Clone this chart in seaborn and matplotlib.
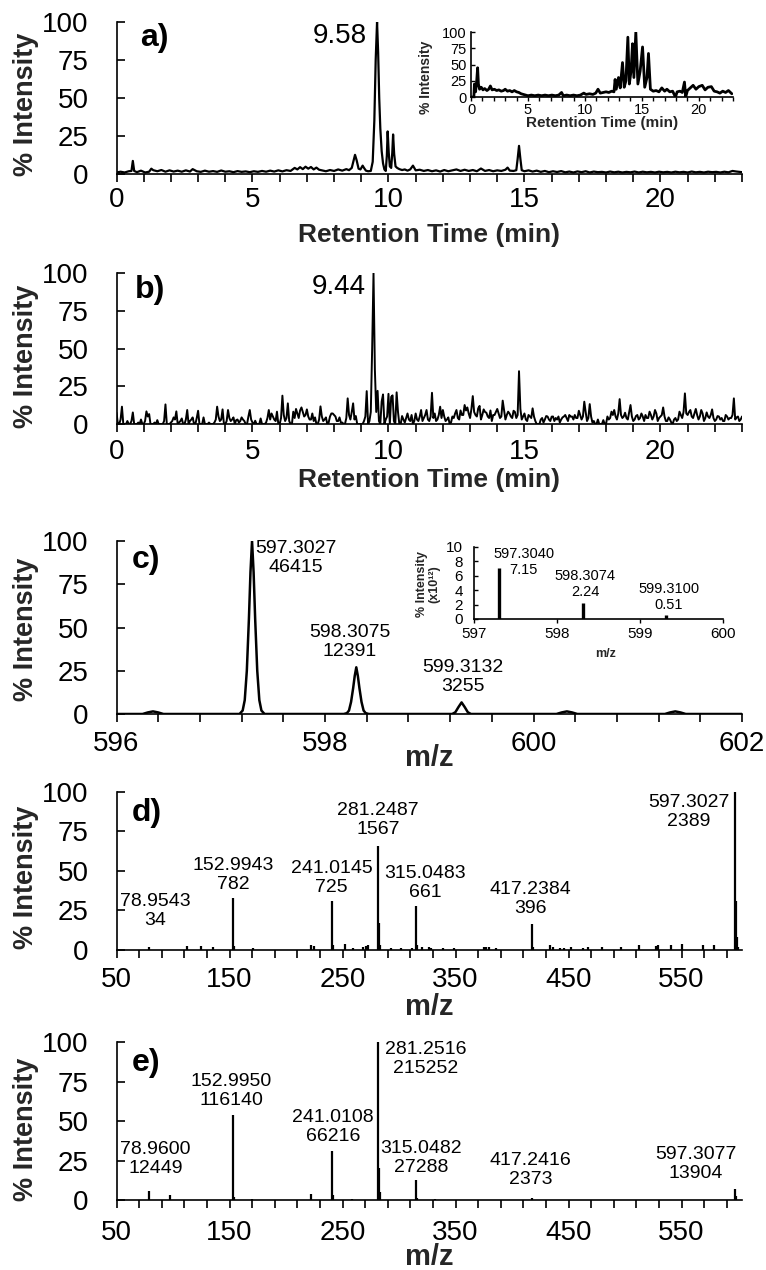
import numpy as np
import matplotlib
matplotlib.use("Agg")
import matplotlib.pyplot as plt
import seaborn as sns

# ---- a) extracted ion chromatogram ----
rt_a = [0.00, 0.15, 0.30, 0.45, 0.55, 0.60, 0.65, 0.75, 0.90, 1.05, 1.20, 1.28, 1.35, 1.50,
        1.65, 1.80, 1.95, 2.10, 2.25, 2.40, 2.55, 2.70, 2.80, 2.95, 3.10, 3.25, 3.40, 3.55,
        3.70, 3.85, 4.00, 4.15, 4.30, 4.45, 4.60, 4.75, 4.90, 5.05, 5.20, 5.35, 5.50, 5.65,
        5.80, 5.95, 6.10, 6.25, 6.40, 6.55, 6.65, 6.75, 6.85, 6.95, 7.05, 7.15, 7.25, 7.35,
        7.45, 7.55, 7.70, 7.85, 8.00, 8.15, 8.30, 8.45, 8.55, 8.65, 8.72, 8.77, 8.83, 8.90,
        8.97, 9.05, 9.10, 9.17, 9.25, 9.35, 9.42, 9.48, 9.53, 9.58, 9.62, 9.66, 9.70, 9.75,
        9.80, 9.85, 9.90, 9.94, 9.97, 10.01, 10.05, 10.10, 10.14, 10.17, 10.21, 10.26, 10.32,
        10.40, 10.50, 10.60, 10.70, 10.80, 10.90, 11.00, 11.15, 11.30, 11.45, 11.60, 11.75,
        11.90, 12.05, 12.20, 12.35, 12.50, 12.65, 12.80, 12.95, 13.10, 13.25, 13.40, 13.55,
        13.70, 13.85, 14.00, 14.15, 14.30, 14.38, 14.46, 14.60, 14.70, 14.75, 14.80, 14.85,
        14.90, 15.00, 15.15, 15.30, 15.45, 15.60, 15.75, 15.90, 16.05, 16.20, 16.35, 16.50,
        16.65, 16.80, 16.95, 17.10, 17.25, 17.40, 17.55, 17.70, 17.85, 18.00, 18.15, 18.30,
        18.45, 18.60, 18.75, 18.90, 19.05, 19.20, 19.35, 19.50, 19.65, 19.80, 19.95, 20.10,
        20.25, 20.40, 20.55, 20.70, 20.85, 21.00, 21.15, 21.30, 21.45, 21.60, 21.75, 21.90,
        22.05, 22.20, 22.35, 22.50, 22.65, 22.80, 23.00]
int_a = [1.0, 1.5, 1.0, 1.8, 2.0, 8.6, 2.0, 1.2, 2.2, 1.0, 1.5, 3.5, 2.5, 1.8,
         2.6, 1.5, 2.4, 1.6, 2.2, 1.5, 2.4, 1.6, 3.2, 1.8, 1.4, 2.2, 1.5, 1.9,
         1.4, 2.3, 1.5, 1.8, 1.2, 1.9, 1.4, 1.7, 1.2, 1.8, 1.4, 2.0, 1.5, 2.2,
         1.6, 2.4, 1.7, 2.5, 2.0, 4.0, 3.0, 4.5, 3.2, 4.8, 3.5, 4.6, 3.0, 4.2,
         2.8, 2.4, 1.8, 2.6, 2.0, 3.0, 2.2, 3.2, 2.5, 4.0, 9.0, 12.6, 9.0, 3.5,
         3.0, 5.5, 4.0, 2.2, 1.8, 2.0, 8.0, 35.0, 75.0, 100.0, 80.0, 50.0, 30.0, 15.0,
         7.0, 3.0, 2.0, 12.0, 28.0, 14.0, 5.0, 4.0, 14.0, 26.0, 13.0, 5.0, 4.0,
         3.2, 2.6, 3.0, 2.2, 3.0, 5.5, 2.4, 2.8, 2.0, 2.6, 1.8, 2.4,
         1.6, 2.6, 1.8, 2.4, 3.0, 2.0, 2.8, 2.0, 2.6, 1.8, 3.6, 2.0,
         2.6, 1.8, 2.4, 2.0, 2.8, 4.2, 2.2, 2.0, 2.5, 10.0, 18.5, 10.0,
         2.5, 1.8, 2.4, 1.6, 2.2, 1.4, 2.0, 1.2, 1.8, 1.3, 1.9, 1.1,
         1.6, 1.0, 1.7, 1.2, 1.8, 1.0, 1.6, 1.2, 1.4, 1.0, 1.6, 1.1,
         1.5, 1.0, 1.4, 1.1, 1.6, 1.0, 1.5, 1.1, 1.4, 1.0, 1.5, 1.1,
         1.4, 1.0, 1.5, 1.1, 1.4, 1.0, 1.6, 1.1, 1.4, 1.0, 1.5, 1.2,
         1.4, 1.0, 1.5, 1.1, 2.0, 1.6, 1.2]

# inset of a) total ion chromatogram
rt_tic = [0.00, 0.25, 0.30, 0.40, 0.50, 0.58, 0.65, 0.75, 0.90, 1.05, 1.20, 1.40, 1.55, 1.70,
          1.85, 2.05, 2.25, 2.45, 2.65, 2.85, 3.00, 3.20, 3.40, 3.60, 3.80, 4.00, 4.20, 4.40,
          4.60, 4.80, 5.00, 5.30, 5.60, 5.90, 6.20, 6.50, 6.80, 7.10, 7.40, 7.70, 7.95, 8.10,
          8.40, 8.70, 9.00, 9.30, 9.60, 9.90, 10.10, 10.40, 10.70, 10.95, 11.15, 11.35, 11.60,
          11.85, 12.10, 12.35, 12.55, 12.65, 12.75, 12.95, 13.10, 13.30, 13.45, 13.60, 13.77,
          13.90, 14.05, 14.18, 14.30, 14.47, 14.65, 14.85, 15.06, 15.25, 15.45, 15.58, 15.75,
          16.00, 16.25, 16.50, 16.75, 17.00, 17.20, 17.45, 17.70, 17.95, 18.10, 18.35, 18.55,
          18.74, 18.85, 19.00, 19.25, 19.50, 19.75, 20.00, 20.30, 20.55, 20.80, 21.10, 21.35,
          21.60, 21.85, 22.10, 22.35, 22.60, 22.90]
int_tic = [0, 0, 20, 8, 25, 45, 20, 12, 15, 11, 13, 10, 12, 17,
           11, 12, 10, 11, 9, 10, 12, 9, 10, 8, 10, 8, 7, 5,
           4, 3, 2, 3, 2, 3, 2, 3, 2, 3, 2, 3, 7, 2,
           3, 2, 3, 2, 3, 6, 4, 5, 4, 6, 12, 6, 7,
           8, 7, 9, 8, 27, 12, 30, 14, 53, 15, 25, 92,
           20, 40, 82, 30, 100, 20, 40, 77, 15, 30, 67, 12,
           9, 10, 8, 14, 9, 12, 8, 9, 0, 8, 9, 7,
           23, 0, 10, 14, 18, 12, 16, 18, 11, 15, 16, 9,
           8, 6, 9, 7, 10, 5]

# ---- b) chromatogram: values at every 0.1 min (t = 0.0 ... 23.0) ----
int_b_even = [7.5, 0, 11.5, 0, 2, 0, 7.7, 0, 1, 3,
              0, 8.4, 6.6, 0, 1, 2.6, 0, 0, 13, 0,
              1, 4.4, 8.4, 1, 3.7, 0, 9.3, 2, 4.4, 0,
              8.8, 0, 4.4, 0, 1, 0, 1, 11.5, 2, 9.7,
              0, 9.3, 2, 4.4, 2.6, 1, 4.4, 2, 0, 9.3,
              1, 2.2, 0, 3.7, 0, 1, 9.3, 7, 3, 8.2,
              0, 18.8, 2, 13.7, 0, 8.2, 10, 4, 11, 5,
              9.7, 3, 7, 4.4, 0, 11.7, 2, 4.4, 1, 7,
              6, 2, 4.4, 1, 0, 17, 3, 13.7, 5.3, 0,
              0, 2, 21.8, 2, 50, 36, 22, 0, 19.6, 3,
              20, 18, 2, 21, 0, 5.3, 1, 7, 2, 0,
              7, 2, 9.3, 4, 9.3, 2, 20.7, 7, 3, 11.5,
              9.3, 2, 4.4, 1, 4, 9.3, 3, 6, 12.6, 11,
              4, 18.5, 6, 10.4, 3, 9.7, 7.5, 4, 2, 6,
              10, 4, 15.5, 3, 8.2, 5, 8.8, 4, 35, 3,
              7, 2, 5, 10.4, 2, 0, 3, 1, 5.3, 3,
              4.9, 2, 3, 1, 4.4, 6, 2, 4.9, 3, 4,
              8.8, 3, 14.8, 2, 13.2, 1, 0, 3, 0, 2.6,
              0, 3, 8.2, 9.3, 3, 16.5, 4, 7.5, 3, 12.6,
              2, 5.3, 3, 7, 2, 4, 8.2, 3, 9.3, 2,
              5, 11, 2, 4.4, 1, 3, 2, 8.2, 4, 20.3,
              6, 9.3, 4, 10, 3, 9.3, 2, 7.7, 4, 9.7,
              2, 5.3, 3, 2, 6, 3, 4, 17, 4.4, 2,
              5]
# values half-way between (t = 0.05 ... 22.95)
int_b_odd = [0, 3, 0, 0, 0, 2, 0, 0, 0, 0,
             2, 5, 0, 0, 0, 0, 0, 2, 0, 0,
             2, 3, 0, 2, 0, 3, 0, 3, 0, 4,
             0, 0, 0, 0, 0, 0, 3, 5, 3, 0,
             2, 4, 3, 0, 3, 2, 3, 0, 5, 3,
             0, 0, 0, 0, 0, 4, 3, 5, 2, 0,
             4, 6, 4, 2, 0, 4, 7, 9, 8, 6,
             5, 3, 2, 0, 3, 5, 3, 0, 5, 7,
             5, 2, 1, 0, 4, 6, 8, 3, 0, 0,
             0, 5, 0, 8, 100, 8, 2, 15, 0, 5,
             0, 19, 0, 8, 0, 3, 4, 3, 6, 2,
             3, 5, 2, 6, 3, 5, 4, 2, 6, 4,
             5, 3, 0, 5, 7, 4, 9, 6, 9, 7,
             10, 8, 5, 12, 6, 8, 5, 9, 6, 8,
             7, 5, 9, 6, 7, 4, 8, 6, 10, 5,
             3, 6, 4, 5, 0, 0, 4, 3, 5, 2,
             5, 4, 5, 3, 5, 4, 6, 5, 6, 4,
             6, 5, 8, 4, 5, 2, 0, 0, 0, 0,
             5, 4, 6, 5, 7, 6, 5, 4, 8, 5,
             3, 6, 4, 5, 6, 4, 6, 5, 7, 4,
             6, 5, 2, 3, 0, 4, 3, 6, 8, 7,
             8, 5, 7, 6, 5, 7, 4, 5, 6, 4,
             3, 5, 4, 2, 5, 4, 6, 3, 5, 3]

# ---- c) full-scan profile spectrum ----
mz_c = [596.00, 596.25, 596.30, 596.35, 596.40, 596.45,
        597.18, 597.21, 597.23, 597.25, 597.27, 597.285, 597.30, 597.315, 597.33, 597.35,
        597.37, 597.39, 597.42,
        598.18, 598.21, 598.23, 598.25, 598.27, 598.285, 598.30, 598.315, 598.33, 598.35,
        598.37, 598.39, 598.42,
        599.22, 599.25, 599.28, 599.31, 599.34, 599.37, 599.40,
        600.22, 600.27, 600.32, 600.37, 600.42,
        601.26, 601.31, 601.36, 601.41, 601.46, 602.00]
int_c = [0, 0, 0.9, 1.5, 0.9, 0,
         0, 2, 8, 25, 55, 82, 100, 82, 55, 25,
         8, 2, 0,
         0, 0.5, 2, 7, 15, 22, 27, 22, 15, 7,
         2, 0.5, 0,
         0, 1, 4, 6.7, 4, 1, 0,
         0, 0.9, 1.5, 0.9, 0,
         0, 0.9, 1.5, 0.9, 0, 0]
c_labels = ["597.3027\n46415", "598.3075\n12391", "599.3132\n3255"]

# inset of c) theoretical isotope pattern
mz_theo = [597.3040, 598.3074, 599.3100]
int_theo = [7.15, 2.24, 0.51]
theo_labels = ["597.3040\n7.15", "598.3074\n2.24", "599.3100\n0.51"]

# ---- d) MS/MS spectrum ----
mz_d = [78.95, 112, 125, 135, 152.99, 154.0, 171, 222, 225, 241.01, 242.0, 252.5, 259.6,
        268, 271, 272.7, 281.25, 282.25, 283.25, 292.6, 302, 311.4, 315.05, 316.05, 320.7,
        326.4, 328, 339, 348.7, 374.8, 376.7, 379.8, 386, 417.24, 418.2, 434, 436, 442.5,
        446, 452, 462.5, 467, 480, 496, 512.7, 527, 529, 540.8, 550, 569, 578.5,
        597.30, 598.30, 599.30, 600.3]
int_d = [1.7, 2.5, 2.5, 2.0, 33, 2.5, 1.0, 3.4, 2.5, 31, 3.0, 3.8, 1.3,
         2.0, 2.5, 3.0, 66, 17, 3, 1.3, 1.0, 1.5, 28, 3, 1.7,
         1.7, 1.3, 1.3, 1.3, 2, 2, 2, 1.3, 16.6, 2, 3.4, 2, 1.5,
         1.5, 1.7, 1.5, 1.7, 1.7, 1.7, 3, 2.5, 3.4, 3, 3.8, 3, 3.4,
         100, 31, 8, 2]
d_labels = ["78.9543\n34", "152.9943\n782", "241.0145\n725", "281.2487\n1567",
            "315.0483\n661", "417.2384\n396", "597.3027\n2389"]

# ---- e) MS/MS spectrum ----
mz_e = [78.96, 96.96, 152.995, 153.99, 170, 222.5, 241.01, 242.0, 258, 281.25, 282.25,
        283.25, 315.05, 316.05, 332, 417.24, 597.31, 598.31]
int_e = [6.0, 3.0, 54, 2, 0.8, 3.5, 31, 3, 0.8, 100, 20,
         5, 12.7, 1.5, 0.8, 1.1, 6.8, 2.5]
e_labels = ["78.9600\n12449", "152.9950\n116140", "241.0108\n66216", "281.2516\n215252",
            "315.0482\n27288", "417.2416\n2373", "597.3077\n13904"]

# b) full trace on a 0.05 min grid
rt_b = np.round(np.arange(0, 23.001, 0.05), 2)
int_b = np.empty(len(rt_b))
int_b[0::2] = int_b_even
int_b[1::2] = int_b_odd

# ---------------------------------------------------------------
sns.set_theme(style="ticks")
plt.rcParams['font.family'] = ['Liberation Sans', 'DejaVu Sans']
plt.rcParams['axes.linewidth'] = 1.2
plt.rcParams['axes.edgecolor'] = 'black'
plt.rcParams['xtick.color'] = 'black'
plt.rcParams['ytick.color'] = 'black'
plt.rcParams['text.color'] = 'black'

fig = plt.figure(figsize=(7.66, 12.70), dpi=100)
L, W = 0.1521, 0.8166
ax_a = fig.add_axes([L, 0.8630, W, 0.1197])
ax_b = fig.add_axes([L, 0.6661, W, 0.1189])
ax_c = fig.add_axes([L, 0.4378, W, 0.1362])
ax_d = fig.add_axes([L, 0.2520, W, 0.1244])
ax_e = fig.add_axes([L, 0.0551, W, 0.1244])


def style(ax, xlim, major, minor, xpad, xlabel, xlab_y, ylab_y, letter, letter_xy):
    sns.despine(ax=ax)
    ax.set_xlim(*xlim)
    ax.set_ylim(0, 100)
    ax.set_yticks([0, 25, 50, 75, 100])
    ax.set_xticks(major)
    ax.set_xticks(minor, minor=True)
    ax.tick_params(axis='y', direction='in', length=6, width=1.2, labelsize=20, pad=20)
    ax.tick_params(axis='x', which='both', direction='out', length=6, width=1.2,
                   labelsize=20, pad=xpad)
    ax.set_ylabel("% Intensity", fontsize=19.5, fontweight='bold')
    ax.yaxis.set_label_coords(-0.124, ylab_y)
    ax.set_xlabel(xlabel, fontsize=19 if len(xlabel) > 5 else 21, fontweight='bold')
    ax.xaxis.set_label_coords(0.5, xlab_y)
    ax.text(letter_xy[0], letter_xy[1], letter, transform=ax.transAxes,
            fontsize=23, fontweight='bold', ha='left', va='center')


# a)
sns.lineplot(x=rt_a, y=int_a, ax=ax_a, color='black', lw=1.6, estimator=None, sort=False)
style(ax_a, (0, 23), np.arange(0, 21, 5), np.arange(0, 24, 1), 3.5,
      "Retention Time (min)", -0.32, 0.46, "a)", (0.038, 0.895))
ax_a.text(9.21, 86, "9.58", fontsize=20, ha='right', va='baseline')

ins_a = fig.add_axes([0.6149, 0.9236, 0.3420, 0.0512])
sns.lineplot(x=rt_tic, y=int_tic, ax=ins_a, color='black', lw=2, estimator=None, sort=False)
sns.despine(ax=ins_a)
ins_a.set_xlim(0, 23)
ins_a.set_ylim(0, 100)
ins_a.set_yticks([0, 25, 50, 75, 100])
ins_a.set_xticks(np.arange(0, 21, 5))
ins_a.set_xticks(np.arange(0, 24, 1), minor=True)
ins_a.tick_params(axis='y', direction='in', length=3, width=1, labelsize=10.5, pad=3)
ins_a.tick_params(axis='x', which='both', direction='out', length=3, width=1,
                  labelsize=10.5, pad=1.5)
ins_a.set_ylabel("% Intensity", fontsize=10, fontweight='bold')
ins_a.yaxis.set_label_coords(-0.145, 0.3)
ins_a.set_xlabel("Retention Time (min)", fontsize=11, fontweight='bold')
ins_a.xaxis.set_label_coords(0.5, -0.29)

# b)
sns.lineplot(x=rt_b, y=int_b, ax=ax_b, color='black', lw=1.4, estimator=None, sort=False)
style(ax_b, (0, 23), np.arange(0, 21, 5), np.arange(0, 24, 1), 5,
      "Retention Time (min)", -0.29, 0.45, "b)", (0.03, 0.887))
ax_b.text(9.17, 86, "9.44", fontsize=20, ha='right', va='baseline')

# c)
sns.lineplot(x=mz_c, y=int_c, ax=ax_c, color='black', lw=1.8, estimator=None, sort=False)
style(ax_c, (596, 602), np.arange(596, 603, 2), np.arange(596, 602.01, 0.4), 6,
      "m/z", -0.173, 0.49, "c)", (0.024, 0.89))
for (x, y), lab in zip([(597.72, 100.4), (598.24, 52.1), (599.32, 32.0)], c_labels):
    ax_c.text(x, y, lab, fontsize=14, ha='center', va='top', multialignment='center',
              linespacing=1.15)

ins_c = fig.add_axes([0.6188, 0.5126, 0.3251, 0.0567])
ins_c.vlines(mz_theo, 0, int_theo, color='black', lw=2.4)
sns.despine(ax=ins_c)
ins_c.set_xlim(597, 600)
ins_c.set_ylim(0, 10)
ins_c.set_xticks([597, 598, 599, 600])
ins_c.set_yticks(np.arange(0, 11, 2))
ins_c.tick_params(axis='y', direction='in', length=3, width=1, labelsize=11, pad=8)
ins_c.tick_params(axis='x', direction='out', length=3, width=1, labelsize=11, pad=3)
ins_c.set_ylabel("% Intensity\n(x10¹²)", fontsize=9, fontweight='bold', linespacing=1.0)
ins_c.yaxis.set_label_coords(-0.137, 0.49)
ins_c.set_xlabel("m/z", fontsize=9, fontweight='bold')
ins_c.xaxis.set_label_coords(0.53, -0.40)
for (x, y), lab in zip([(597.60, 9.97), (598.34, 6.9), (599.35, 5.1)], theo_labels):
    ins_c.text(x, y, lab, fontsize=10.5, ha='center', va='top', multialignment='center',
               linespacing=1.15)

# d)
ax_d.vlines(mz_d, 0, int_d, color='black', lw=1.6)
style(ax_d, (50, 603.5), np.arange(50, 551, 100), np.arange(50, 600, 20), 6,
      "m/z", -0.27, 0.46, "d)", (0.024, 0.867))
d_pos = [(84.5, 36), (153.4, 59), (240.3, 57), (281.6, 93.4), (322.9, 54), (416.4, 43.4),
         (556.5, 98.7)]
for (x, y), lab in zip(d_pos, d_labels):
    ax_d.text(x, y, lab, fontsize=14, ha='center', va='top', multialignment='center',
              linespacing=1.15)

# e)
ax_e.vlines(mz_e, 0, int_e, color='black', lw=1.6)
style(ax_e, (50, 603.5), np.arange(50, 551, 100), np.arange(50, 600, 20), 8.5,
      "m/z", -0.27, 0.446, "e)", (0.024, 0.867))
e_pos = [(84.5, 37.5), (151.6, 80.3), (241.4, 57.8), (323.7, 100.8), (319.8, 38.2),
         (416.4, 30.3), (562.6, 34.4)]
for (x, y), lab in zip(e_pos, e_labels):
    ax_e.text(x, y, lab, fontsize=14, ha='center', va='top', multialignment='center',
              linespacing=1.15)

fig.savefig("out.png", dpi=100)
